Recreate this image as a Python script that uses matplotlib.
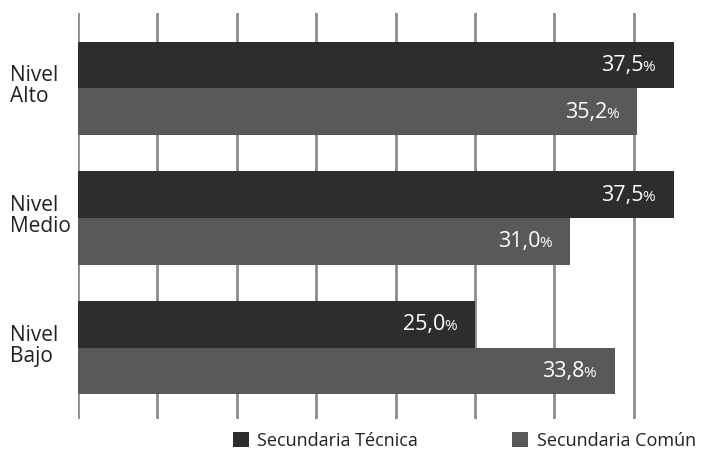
import matplotlib
matplotlib.use('Agg')
from matplotlib import pyplot as plt

plt.rcParams['font.family'] = ['Open Sans', 'DejaVu Sans']

niveles = ['Nivel\nAlto', 'Nivel\nMedio', 'Nivel\nBajo']
series = ['Secundaria Técnica', 'Secundaria Común']
tecnica = [37.5, 37.5, 25.0]
comun = [35.2, 31.0, 33.8]
colores = ['#2d2d2d', '#595959']

W, H = 708, 450
fig = plt.figure(figsize=(W / 100, H / 100), dpi=100)
# eje: x=0 en 78px, 5% = 79.4px
ax = fig.add_axes([78 / W, (H - 419) / H, (W - 78) / W, (419 - 13) / H])
ax.set_xlim(0, (W - 78) / 79.4 * 5)
ax.set_ylim(2.55, -0.58)

alto = 0.36
pos = list(range(len(niveles)))
b1 = ax.barh([p - alto / 2 for p in pos], tecnica, height=alto, color=colores[0], zorder=2)
b2 = ax.barh([p + alto / 2 for p in pos], comun, height=alto, color=colores[1], zorder=2)

for x in range(0, 40, 5):
    ax.axvline(x, color='#8c8c8c', lw=2, zorder=1)

for spine in ax.spines.values():
    spine.set_visible(False)
ax.set_xticks([])
ax.set_yticks([])

# etiquetas de valor (número grande y % más pequeño)
for barras, vals in [(b1, tecnica), (b2, comun)]:
    for rect, v in zip(barras, vals):
        y = rect.get_y() + rect.get_height() / 2
        num = f'{v:.1f}'.replace('.', ',')
        ax.annotate(num, xy=(v, y), xytext=(-30, -6), textcoords='offset pixels',
                    ha='right', va='baseline', color='white', fontsize=15.5, zorder=3)
        ax.annotate('%', xy=(v, y), xytext=(-31, -6), textcoords='offset pixels',
                    ha='left', va='baseline', color='white', fontsize=11, zorder=3)

# etiquetas de categoría
for p, n in zip(pos, niveles):
    fig.text(10 / W, ax.transData.transform((0, p))[1] / H + 2 / H, n,
             ha='left', va='center', fontsize=15, color='#222222', linespacing=1.0)

fig.legend(handles=[b1, b2], labels=series, ncol=2, frameon=False,
           loc='center left', bbox_to_anchor=(233 / W, (H - 441) / H),
           borderpad=0, borderaxespad=0, handlelength=0.9, handleheight=0.9,
           handletextpad=0.45, columnspacing=5.2, fontsize=13, labelcolor='#222222')

fig.savefig('out.png', dpi=100)
